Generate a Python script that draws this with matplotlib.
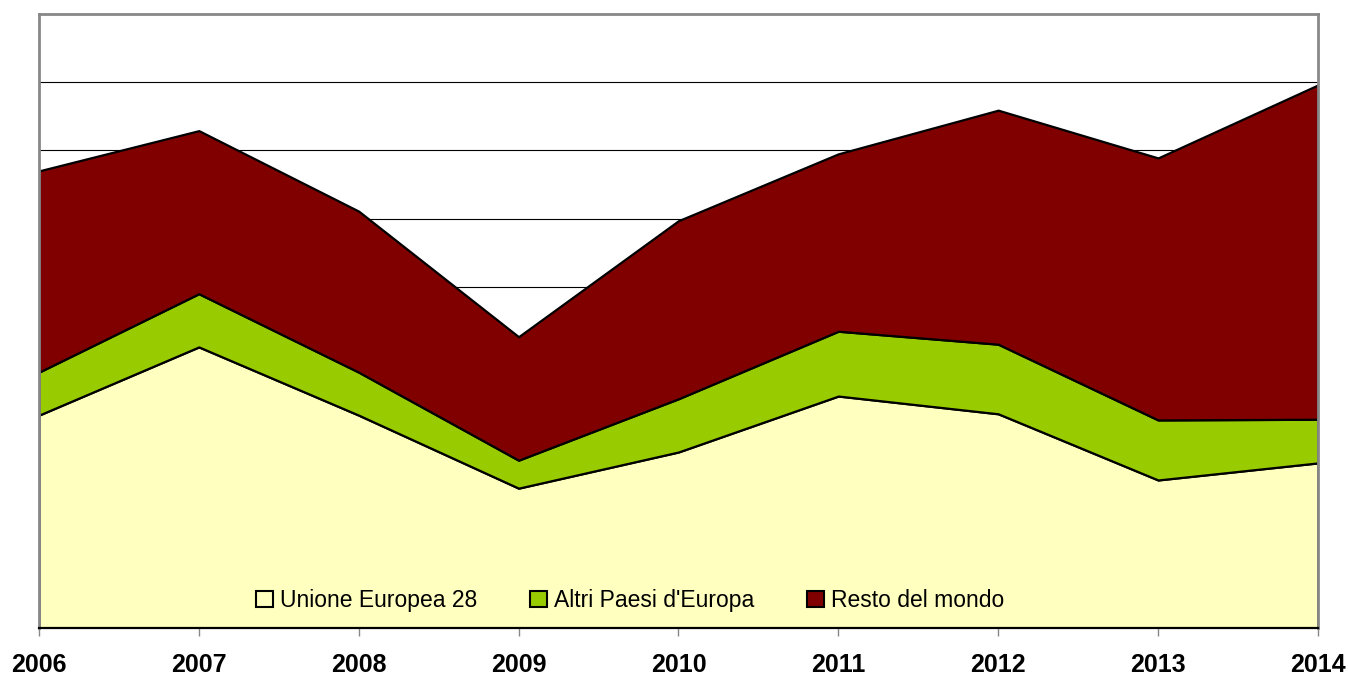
import numpy as np
import matplotlib.pyplot as plt
from matplotlib.patches import Patch

# dati (scala in unità di griglia)
anni = [2006, 2007, 2008, 2009, 2010, 2011, 2012, 2013, 2014]
ue28 = [3.12, 4.12, 3.12, 2.05, 2.58, 3.40, 3.14, 2.17, 2.42]
altri_europa = [0.63, 0.78, 0.63, 0.41, 0.78, 0.95, 1.02, 0.88, 0.64]
resto_mondo = [2.95, 2.39, 2.36, 1.81, 2.61, 2.60, 3.43, 3.84, 4.90]
serie_nomi = ["Unione Europea 28", "Altri Paesi d'Europa", "Resto del mondo"]
colori = ["#FFFFC0", "#99CC00", "#800000"]

plt.rcParams["font.family"] = ["Liberation Sans", "DejaVu Sans"]

fig = plt.figure(figsize=(13.48, 6.78), dpi=100)
ax = fig.add_axes([0.0289, 0.0737, 0.9488, 0.9057])

ax.stackplot(anni, ue28, altri_europa, resto_mondo, colors=colori,
             edgecolor="black", linewidth=1.6, zorder=2)

# griglia orizzontale
ax.set_ylim(0, 9)
ax.set_xlim(anni[0], anni[-1])
ax.set_yticks(np.arange(0, 10, 1))
ax.yaxis.grid(True, color="black", linewidth=0.8, zorder=1)
ax.set_axisbelow(True)
ax.tick_params(axis="y", left=False, labelleft=False)

ax.set_xticks(anni)
ax.set_xticklabels([str(a) for a in anni], fontsize=18, fontweight="bold")
ax.tick_params(axis="x", direction="out", length=6, width=1, color="#888888", pad=12)

for lato in ["top", "left", "right"]:
    ax.spines[lato].set_color("#888888")
    ax.spines[lato].set_linewidth(2)
ax.spines["bottom"].set_color("black")
ax.spines["bottom"].set_linewidth(1.6)

# legenda
maniglie = [Patch(facecolor=c, edgecolor="black", linewidth=1.5) for c in colori]
ax.legend(maniglie, serie_nomi, loc="lower center", bbox_to_anchor=(0.462, 0.0),
          ncol=3, frameon=False, fontsize=16.5, handlelength=0.75, handleheight=0.75,
          handletextpad=0.3, columnspacing=2.3, borderaxespad=0.3)

plt.savefig("out.png", dpi=100)
